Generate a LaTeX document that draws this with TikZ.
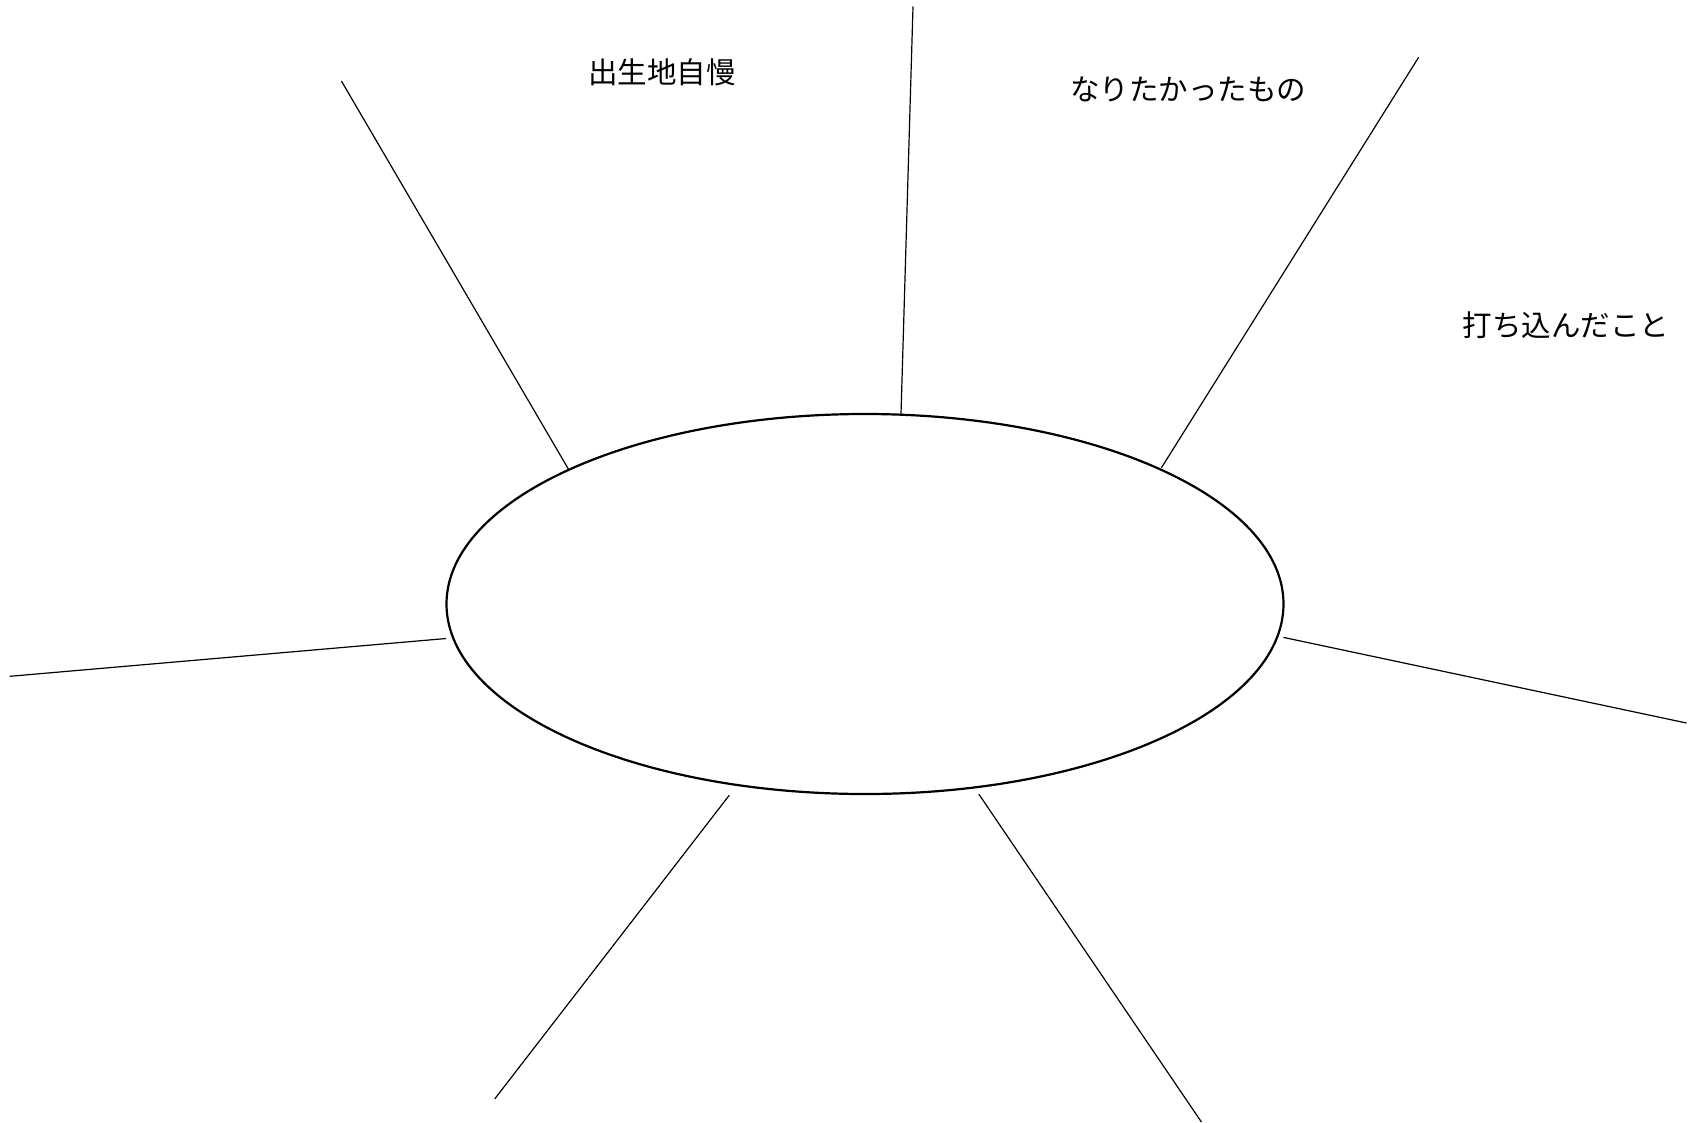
\documentclass[tikz,border=0pt]{standalone}
\usepackage{fontspec}
\newfontfamily\jpfont{Noto Sans CJK JP}
\usetikzlibrary{shapes.geometric}

\begin{document}
\begin{tikzpicture}[x=1pt, y=-1pt,
    every node/.style={font=\jpfont\fontsize{29.5}{35}\selectfont},
    spoke/.style={line width=1.2pt},
    hub/.style={draw, ellipse, line width=2.2pt, inner sep=0pt, outer sep=0pt,
      minimum width=837pt, minimum height=380pt}]
  \useasboundingbox (0,0) rectangle (1694,1122);
  % centre
  \node[hub] (hub) at (865,604) {};
  % inner ends of the spokes, on or near the rim
  \coordinate (tl in) at (568.3,468.9);
  \coordinate (tm in) at (901,413.8);
  \coordinate (tr in) at (1161.4,467.8);
  \coordinate (ml in) at (446.2,638.5);
  \coordinate (mr in) at (1283.5,637.4);
  \coordinate (bl in) at (729.3,795.2);
  \coordinate (br in) at (978.8,794.1);
  % free ends of the spokes
  \coordinate (tl) at (341.4,81);
  \coordinate (tm) at (913,6.5);
  \coordinate (tr) at (1418.6,57.3);
  \coordinate (ml) at (9.7,676.3);
  \coordinate (mr) at (1686.5,723);
  \coordinate (bl) at (494.8,1098.8);
  \coordinate (br) at (1201.4,1122);
  % spokes
  \draw[spoke] (tl in) -- (tl);
  \draw[spoke] (tm in) -- (tm);
  \draw[spoke] (tr in) -- (tr);
  \draw[spoke] (ml in) -- (ml);
  \draw[spoke] (mr in) -- (mr);
  \draw[spoke] (bl in) -- (bl);
  \draw[spoke] (br in) -- (br);
  % labels
  \node (birth) at (662,72.5) {出生地自慢};
  \node (dream) at (1188,89) {なりたかったもの};
  \node (passion) at (1566,325) {打ち込んだこと};
\end{tikzpicture}
\end{document}
